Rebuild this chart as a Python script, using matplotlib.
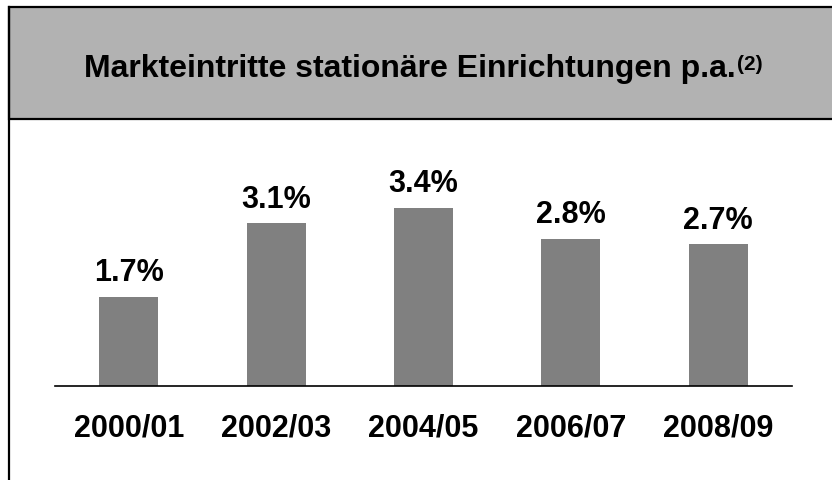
import matplotlib

matplotlib.use("Agg")
import matplotlib.pyplot as plt
from matplotlib.lines import Line2D
from matplotlib.patches import Rectangle

plt.rcParams["font.family"] = ["Liberation Sans", "DejaVu Sans"]

# Daten
periods = ["2000/01", "2002/03", "2004/05", "2006/07", "2008/09"]
entry_rates = [1.7, 3.1, 3.4, 2.8, 2.7]
value_labels = ["1.7%", "3.1%", "3.4%", "2.8%", "2.7%"]

TITLE = "Markteintritte stationäre Einrichtungen p.a."
FOOTNOTE = "(2)"

W, H = 832, 481
fig = plt.figure(figsize=(W / 100, H / 100), dpi=100)
fig.patch.set_facecolor("white")

# Titelkasten mit Rahmen, linke Linie läuft bis nach unten durch
fig.patches.append(
    Rectangle(
        (9 / W, 1 - 120 / H),
        1.0,
        112 / H,
        transform=fig.transFigure,
        facecolor="#b2b2b2",
        edgecolor="black",
        linewidth=1.6,
        zorder=0,
    )
)
fig.lines.append(
    Line2D(
        [9 / W, 9 / W],
        [0, 1 - 8 / H],
        transform=fig.transFigure,
        color="black",
        linewidth=1.6,
    )
)

title = fig.text(
    84 / W,
    1 - 77 / H,
    TITLE,
    ha="left",
    va="baseline",
    fontsize=23,
    fontweight="bold",
)

# Fußnotenzeichen hochgestellt hinter den Titel setzen
fig.canvas.draw()
bbox = title.get_window_extent(fig.canvas.get_renderer())
fig.text(
    (bbox.x1 + 1) / W,
    1 - 55 / H,
    FOOTNOTE,
    ha="left",
    va="top",
    fontsize=15,
    fontweight="bold",
)

ax = fig.add_axes([55 / W, 1 - 387 / H, (792 - 55) / W, (387 - 130) / H])

positions = list(range(len(periods)))
bars = ax.bar(positions, entry_rates, width=0.4, color="#808080", zorder=2)

for bar, label in zip(bars, value_labels):
    ax.annotate(
        label,
        (bar.get_x() + bar.get_width() / 2, bar.get_height()),
        xytext=(0, 12),
        textcoords="offset points",
        ha="center",
        va="baseline",
        fontsize=22,
        fontweight="bold",
    )

ax.set_xlim(-0.5, len(periods) - 0.5)
ax.set_ylim(0, 257 / 52.5)
ax.set_xticks(positions)
ax.set_xticklabels(periods, fontsize=22, fontweight="bold")
ax.tick_params(axis="x", length=0, pad=19)
ax.set_yticks([])

for side in ["top", "left", "right"]:
    ax.spines[side].set_visible(False)
ax.spines["bottom"].set_linewidth(1.2)
ax.set_facecolor("none")

fig.savefig("out.png", dpi=100)
